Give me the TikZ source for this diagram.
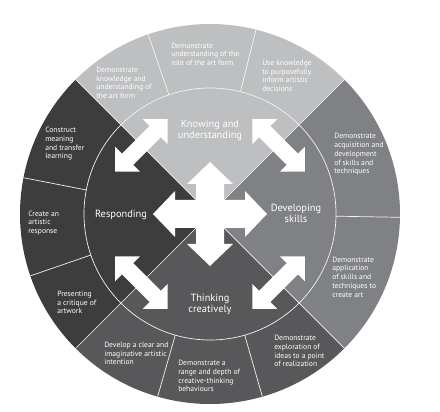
\documentclass[tikz,border=0pt]{standalone}
\usepackage{fontspec}
\setmainfont{PT Sans}
\usepackage{tikz}

\definecolor{knowgray}{HTML}{BEBFC1}
\definecolor{devgray}{HTML}{808184}
\definecolor{thinkgray}{HTML}{58585A}
\definecolor{respgray}{HTML}{3D3D3E}

\tikzset{
    sep/.style={draw=white!90!gray, line width=0.5pt},
    ringtext/.style={text=white, font=\fontsize{5.4}{6.2}\selectfont, align=left, anchor=west, inner sep=0pt},
    hubtext/.style={text=white, font=\fontsize{7.4}{7.9}\selectfont, align=center, inner sep=0pt},
    pics/twoway/.style={code={
        \fill[white] (-37,0) -- (-19.5,17.5) -- (-19.5,8) -- (19.5,8) -- (19.5,17.5)
            -- (37,0) -- (19.5,-17.5) -- (19.5,-8) -- (-19.5,-8) -- (-19.5,-17.5) -- cycle;
    }}
}

\begin{document}
\begin{tikzpicture}[x=0.025cm, y=0.025cm]
    \useasboundingbox (-210,-198) rectangle (230,214);
    \coordinate (O) at (0,0);

    \fill[knowgray] (O) -- (45:190) arc[start angle=45, end angle=135, radius=190] -- cycle;
    \fill[respgray] (O) -- (135:190) arc[start angle=135, end angle=225, radius=190] -- cycle;
    \fill[thinkgray] (O) -- (225:190) arc[start angle=225, end angle=315, radius=190] -- cycle;
    \fill[devgray] (O) -- (-45:190) arc[start angle=-45, end angle=45, radius=190] -- cycle;

    \draw[sep] (O) circle[radius=126];
    \draw[sep] (O) -- (45:190);
    \draw[sep] (O) -- (135:190);
    \draw[sep] (O) -- (225:190);
    \draw[sep] (O) -- (315:190);
    \draw[sep] (76:126) -- (76:190);
    \draw[sep] (109:126) -- (109:190);
    \draw[sep] (169:126) -- (169:190);
    \draw[sep] (199:126) -- (199:190);
    \draw[sep] (254:126) -- (254:190);
    \draw[sep] (286:126) -- (286:190);
    \draw[sep] (-1:126) -- (-1:190);

    % centre cross
    \fill[white] (0,52) -- (23,30) -- (14,30) -- (14,14) -- (35,14) -- (35,23) -- (57,0)
        -- (35,-23) -- (35,-14) -- (14,-14) -- (14,-30) -- (23,-30) -- (0,-52)
        -- (-23,-30) -- (-14,-30) -- (-14,-14) -- (-35,-14) -- (-35,-23) -- (-57,0)
        -- (-35,23) -- (-35,14) -- (-14,14) -- (-14,30) -- (-23,30) -- cycle;

    \pic[shift={(45:97)}, rotate=135] {twoway};
    \pic[shift={(135:97)}, rotate=45] {twoway};
    \pic[shift={(225:97)}, rotate=135] {twoway};
    \pic[shift={(315:97)}, rotate=45] {twoway};

    \node[hubtext] (know) at (0,83.5) {Knowing and\\understanding};
    \node[hubtext] (dev) at (86,0.5) {Developing\\skills};
    \node[hubtext] (think) at (0,-90.5) {Thinking\\creatively};
    \node[hubtext] (resp) at (-89,-1) {Responding};

    \node[ringtext] (kn1) at (-114,131) {Demonstrate\\knowledge and\\understanding of\\the art form};
    \node[ringtext] (kn2) at (-39,159.7) {Demonstrate\\understanding of the\\role of the art form};
    \node[ringtext] (kn3) at (52,138) {Use knowledge\\to purposefully\\inform artistic\\decisions};
    \node[ringtext] (ds1) at (124,59.5) {Demonstrate\\acquisition and\\development\\of skills and\\techniques};
    \node[ringtext] (ds2) at (122,-63) {Demonstrate\\application\\of skills and\\techniques to\\create art};
    \node[ringtext] (tc1) at (64,-137) {Demonstrate\\exploration of\\ideas to a point\\of realization};
    \node[ringtext] (tc2) at (-32,-162) {Demonstrate a\\range and depth of\\creative-thinking\\behaviours};
    \node[ringtext] (tc3) at (-106,-139.5) {Develop a clear and\\imaginative artistic\\intention};
    \node[ringtext] (rs1) at (-153,-88.5) {Presenting\\a critique of\\artwork};
    \node[ringtext] (rs2) at (-182,-9) {Create an\\artistic\\response};
    \node[ringtext] (rs3) at (-165,70) {Construct\\meaning\\and transfer\\learning};
\end{tikzpicture}
\end{document}
